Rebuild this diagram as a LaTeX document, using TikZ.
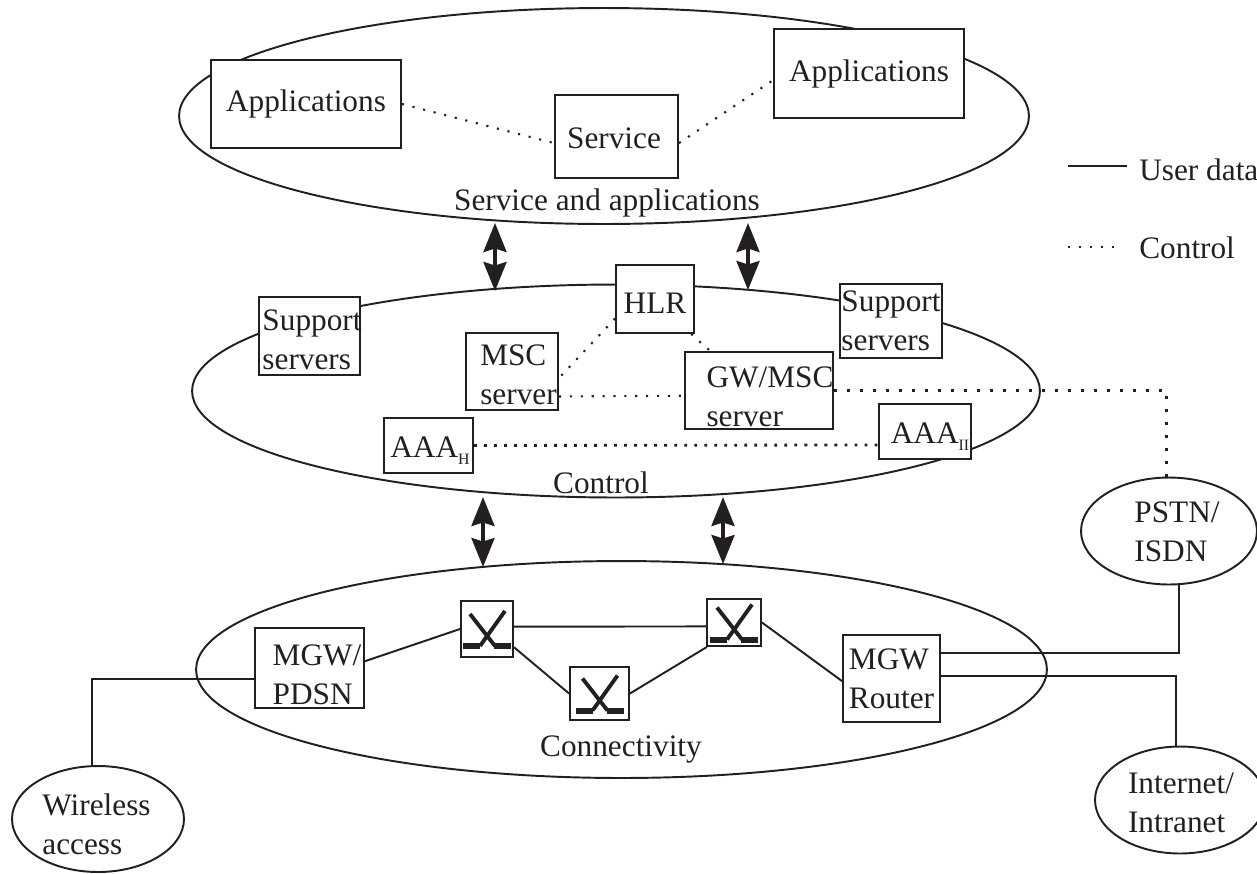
\documentclass[tikz,border=0pt]{standalone}
\usepackage{fontspec}
\setmainfont{Liberation Serif}
\usetikzlibrary{arrows.meta,shapes.geometric}
\definecolor{ink}{HTML}{231F20}
\newcommand{\subH}[1]{\raisebox{-4pt}{\fontsize{9}{9}\selectfont #1}}

\tikzset{
  every node/.style={font=\fontsize{17.8}{22}\selectfont,align=center,inner sep=0pt},
  ln/.style={draw,line width=1.1pt},
  box/.style={rectangle,ln,fill=white},
  oval/.style={ellipse,ln},
  ctrl/.style={line width=1.2pt,dash pattern=on 1.2pt off 5pt},
  ctrlb/.style={line width=1.6pt,dash pattern=on 1.6pt off 4.1pt},
  ctrlc/.style={line width=1.6pt,dash pattern=on 1.6pt off 5.8pt},
  both/.style={line width=2pt,{Stealth[width=0.46cm,length=0.58cm,inset=0.07cm]}-{Stealth[width=0.46cm,length=0.58cm,inset=0.07cm]}},
  hockey/.pic={
    \draw[line width=2.2pt] (-17,-15) -- (8,17);
    \draw[line width=2.2pt] (18,-18) -- (-7,17);
    \fill (-24,14) rectangle (-7,20);
    \fill (7,14) rectangle (24,20);
  }
}

\begin{document}
\begin{tikzpicture}[x=0.02cm,y=-0.02cm,color=ink]
\useasboundingbox (0,0) rectangle (1257,873);

\node[oval,minimum width=17cm,minimum height=4.32cm] (svc) at (604,116) {};
\node[oval,minimum width=16.96cm,minimum height=4.26cm] (ctl) at (616,391) {};
\node[oval,minimum width=17.02cm,minimum height=4.34cm] (con) at (621.5,669.5) {};

\node (svct) at (607,203) {Service and applications};
\node (ctlt) at (601,483) {Control};
\node (cont) at (621,750) {Connectivity};

\node[box,minimum width=3.8cm,minimum height=1.76cm] (app1) at (306,104) {Applications};
\node[box,minimum width=2.46cm,minimum height=1.66cm] (serv) at (616.5,136.5) {};
\node (servt) at (614,138) {Service};
\node[box,minimum width=3.8cm,minimum height=1.78cm] (app2) at (869,73.5) {Applications};

\node[box,minimum width=2.02cm,minimum height=1.56cm] (sup1) at (309.5,336) {};
\node[align=left] (sup1t) at (312,340) {Support\\servers};
\node[box,minimum width=1.56cm,minimum height=1.36cm] (hlr) at (655,299) {};
\node (hlrt) at (655,303) {HLR};
\node[box,minimum width=2.04cm,minimum height=1.48cm,align=left] (sup2) at (891,321) {Support\\servers};
\node[box,minimum width=1.84cm,minimum height=1.54cm] (msc) at (512,371.5) {};
\node[align=left] (msct) at (518.5,375) {MSC\\server};
\node[box,minimum width=2.96cm,minimum height=1.54cm] (gw) at (759,390.5) {};
\node[align=left] (gwt) at (770,397) {GW/MSC\\server};
\node[box,minimum width=1.78cm,minimum height=1.1cm] (aaah) at (428.5,445.5) {};
\node (aaaht) at (430,451) {AAA\subH{H}};
\node[box,minimum width=1.84cm,minimum height=1.1cm] (aaai) at (925,431.5) {};
\node (aaait) at (930,437) {AAA\subH{II}};

\node[box,minimum width=2.18cm,minimum height=1.6cm] (mgwp) at (309.5,668) {};
\node[align=left] (mgwpt) at (317,674.5) {MGW/\\PDSN};
\node[box,minimum width=1.04cm,minimum height=1.12cm] (sw1) at (487,629) {};
\node[box,minimum width=1.08cm,minimum height=0.94cm] (sw2) at (734,622.5) {};
\node[box,minimum width=1.18cm,minimum height=1.06cm] (sw3) at (599.5,693.5) {};
\node[box,minimum width=1.94cm,minimum height=1.74cm,align=left] (mgwr) at (891.5,678.5) {MGW\\Router};

\pic at (sw1) {hockey};
\pic at (sw2) {hockey};
\pic at (sw3) {hockey};

\node[oval,minimum width=3.52cm,minimum height=2.14cm] (pstn) at (1169,531) {};
\node[align=left] (pstnt) at (1177,531.5) {PSTN/\\ISDN};
\node[oval,minimum width=3.4cm,minimum height=2.14cm] (inet) at (1180,800) {};
\node[align=left] (inett) at (1181,803) {Internet/\\Intranet};
\node[oval,minimum width=3.44cm,minimum height=2.12cm] (wless) at (98,819) {};
\node[align=left] (wlesst) at (96.5,824) {Wireless\\access};

\draw[ctrl] (app1.east) -- (serv.186);
\draw[ctrl] (serv.-6) -- (app2.184);
\draw[ctrl] (hlr.206) -- (msc.-8);
\draw[ctrl] (hlr.-44) -- (gw.141);
\draw[ctrl] (msc.-28) -- (gw.184);
\draw[ctrlb] (aaah.east) -- (aaai.196);
\draw[ctrlc] (gw.east) -| (pstn.93);

\draw[ln] (mgwp.7) -- (sw1.west);
\draw[ln] (sw1.5) -- (sw2.-172);
\draw[ln] (sw1.-34) -- (sw3.west);
\draw[ln] (sw3.east) -- (sw2.222);
\draw[ln] (sw2.east) -- (mgwr.183);
\draw[ln] (pstn.-80) |- (mgwr.27);
\draw[ln] (mgwr.3) -| (inet.94);
\draw[ln] (mgwp.191) -| (wless.96);

\coordinate (a1) at (495,223);
\coordinate (a2) at (495,291);
\coordinate (a3) at (748,223);
\coordinate (a4) at (748,290);
\coordinate (a5) at (483,497);
\coordinate (a6) at (483,567);
\coordinate (a7) at (723,497);
\coordinate (a8) at (723,564);
\draw[both] (a1) -- (a2);
\draw[both] (a3) -- (a4);
\draw[both] (a5) -- (a6);
\draw[both] (a7) -- (a8);

\coordinate (leg1) at (1068,166);
\coordinate (leg2) at (1127,166);
\coordinate (leg3) at (1068,247);
\coordinate (leg4) at (1116,247);
\node[anchor=west] (legu) at (1139,170) {User data};
\node[anchor=west] (legc) at (1139,248) {Control};
\draw[ln] (leg1) -- (leg2);
\draw[ctrl] (leg3) -- (leg4);
\end{tikzpicture}
\end{document}
